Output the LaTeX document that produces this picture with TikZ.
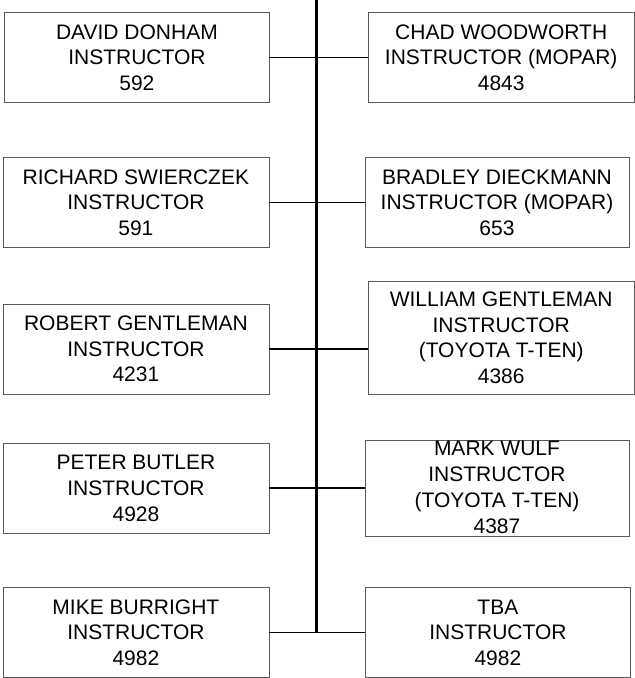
\documentclass[tikz,border=0pt]{standalone}
\usepackage{fontspec}
\setmainfont{Liberation Sans}
\begin{document}
\begin{tikzpicture}[x=1pt, y=-1pt,
% common options for the boxes:
box/.style = {draw=black!65, line width=0.8pt, align=center, inner sep=0,
            minimum width=266pt, minimum height=89.6pt,
            font=\fontsize{21}{25.6}\selectfont},
% common options for the lines:
link/.style = {line width=1.7pt},
spine/.style = {line width=2.6pt}]
\useasboundingbox (0,0) rectangle (635,678);

% left column
\node[box, minimum width=264.3pt] (L1) at (136.9,57.5) {DAVID DONHAM\\INSTRUCTOR\\592};
\node[box] (L2) at (135.9,202.5) {RICHARD SWIERCZEK\\INSTRUCTOR\\591};
\node[box, minimum height=90pt] (L3) at (135.9,349) {ROBERT GENTLEMAN\\INSTRUCTOR\\4231};
\node[box, minimum height=90pt] (L4) at (136,488.3) {PETER BUTLER\\INSTRUCTOR\\4928};
\node[box] (L5) at (135.9,632.5) {MIKE BURRIGHT\\INSTRUCTOR\\4982};

% right column
\node[box, minimum width=265.7pt, minimum height=90pt] (R1) at (501.2,57.7) {CHAD WOODWORTH\\INSTRUCTOR (MOPAR)\\4843};
\node[box, minimum width=264pt] (R2) at (497,202.5) {BRADLEY DIECKMANN\\INSTRUCTOR (MOPAR)\\653};
\node[box, minimum width=265.7pt, minimum height=112.3pt] (R3) at (501.2,337.9) {WILLIAM GENTLEMAN\\INSTRUCTOR\\(TOYOTA T-TEN)\\4386};
\node[box, minimum width=264pt, minimum height=95.3pt] (R4) at (497,488.3) {};
\begin{scope}
\clip (R4.north west) rectangle (R4.south east);
\node[box, draw=none, font=\fontsize{21}{26.2}\selectfont] (R4text) at ([yshift=1pt]R4.center) {MARK WULF\\INSTRUCTOR\\(TOYOTA T-TEN)\\4387};
\end{scope}
\node[box, minimum width=265.7pt] (R5) at (497.9,632.5) {TBA\\INSTRUCTOR\\4982};

% spine and links
\coordinate (top) at (316.7,0);
\draw[spine] (top) -- (top |- L5.east);
\draw[link] (L1.east) -- (L1.east -| R1.west);
\draw[link] (L2.east) -- (L2.east -| R2.west);
\draw[link] (L3.east) -- (L3.east -| R3.west);
\draw[link] (L4.east) -- (L4.east -| R4.west);
\draw[link] (L5.east) -- (L5.east -| R5.west);
\end{tikzpicture}
\end{document}
